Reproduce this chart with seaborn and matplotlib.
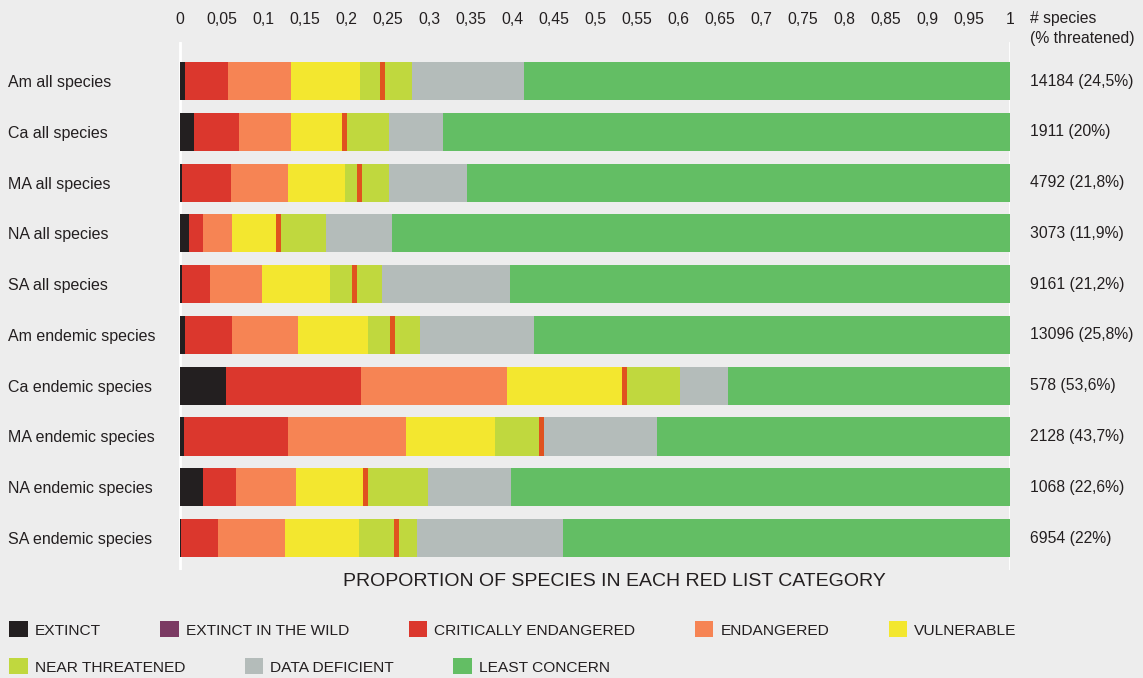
import pandas as pd
import numpy as np
import matplotlib.pyplot as plt
import seaborn as sns
from matplotlib.patches import Patch

# row labels, top to bottom
groups = ["Am all species", "Ca all species", "MA all species", "NA all species",
          "SA all species", "Am endemic species", "Ca endemic species",
          "MA endemic species", "NA endemic species", "SA endemic species"]

# share of species per category
extinct = [0.006, 0.017, 0.002, 0.011, 0.002, 0.006, 0.055, 0.005, 0.028, 0.001]
extinct_wild = [0, 0, 0, 0, 0, 0, 0, 0, 0, 0]
crit_endangered = [0.052, 0.054, 0.059, 0.017, 0.034, 0.057, 0.163, 0.125, 0.040, 0.045]
endangered = [0.076, 0.063, 0.069, 0.035, 0.063, 0.079, 0.176, 0.142, 0.072, 0.080]
vulnerable = [0.083, 0.061, 0.069, 0.053, 0.082, 0.084, 0.139, 0.108, 0.081, 0.090]
near_threat_a = [0.024, 0.0, 0.014, 0.0, 0.026, 0.027, 0.0, 0.053, 0.0, 0.042]
marker = [0.006, 0.006, 0.006, 0.006, 0.006, 0.006, 0.006, 0.006, 0.006, 0.006]
near_threat_b = [0.032, 0.051, 0.033, 0.054, 0.030, 0.030, 0.064, 0.0, 0.072, 0.022]
data_deficient = [0.135, 0.065, 0.094, 0.080, 0.154, 0.138, 0.057, 0.136, 0.100, 0.175]
least_concern = [0.586, 0.683, 0.654, 0.744, 0.603, 0.573, 0.340, 0.425, 0.601, 0.539]

n_species = ["14184 (24,5%)", "1911 (20%)", "4792 (21,8%)", "3073 (11,9%)",
             "9161 (21,2%)", "13096 (25,8%)", "578 (53,6%)", "2128 (43,7%)",
             "1068 (22,6%)", "6954 (22%)"]

tick_vals = [i * 0.05 for i in range(21)]
tick_labels = ["0", "0,05", "0,1", "0,15", "0,2", "0,25", "0,3", "0,35", "0,4", "0,45",
               "0,5", "0,55", "0,6", "0,65", "0,7", "0,75", "0,8", "0,85", "0,9", "0,95", "1"]

segments = [
    ("EXTINCT", extinct, "#231f20"),
    ("EXTINCT IN THE WILD", extinct_wild, "#7b3a63"),
    ("CRITICALLY ENDANGERED", crit_endangered, "#db372d"),
    ("ENDANGERED", endangered, "#f68454"),
    ("VULNERABLE", vulnerable, "#f3e72f"),
    ("nt_a", near_threat_a, "#c0d83e"),
    ("marker", marker, "#e0521f"),
    ("NEAR THREATENED", near_threat_b, "#c0d83e"),
    ("DATA DEFICIENT", data_deficient, "#b4bcba"),
    ("LEAST CONCERN", least_concern, "#63be64"),
]

bg = "#ededed"
txt = "#231f20"

sns.set_style("white")
plt.rcParams['font.family'] = ['Liberation Sans', 'DejaVu Sans']

fig = plt.figure(figsize=(11.43, 6.78), dpi=100, facecolor=bg)
ax = fig.add_axes([179 / 1143, 1 - 570 / 678, 831 / 1143, 528 / 678])
ax.set_facecolor(bg)

# stacked bars: draw cumulative totals from the widest down
df = pd.DataFrame({"group": groups})
cum = np.zeros(len(groups))
cums = []
for name, vals, col in segments:
    cum = cum + np.array(vals)
    cums.append((name, cum.copy(), col))

for name, total, col in reversed(cums):
    df["total"] = total
    sns.barplot(data=df, x="total", y="group", orient="h", color=col, saturation=1,
                width=0.75, linewidth=0, errorbar=None, ax=ax, zorder=3)

ax.axvline(0, color="white", lw=2, zorder=1)
ax.axvline(1, color="white", lw=2, zorder=1)

ax.set_xlim(-0.0012, 1)
ax.set_ylim(9.63, -0.77)
ax.set(xlabel="", ylabel="")
for s in ax.spines.values():
    s.set_visible(False)

ax.xaxis.tick_top()
ax.set_xticks(tick_vals)
ax.set_xticklabels(tick_labels)
ax.tick_params(axis="x", length=0, pad=11, labelsize=11.3, labelcolor=txt)
ax.tick_params(axis="y", length=0, pad=123, labelsize=11.5, labelcolor=txt)
for lab in ax.get_yticklabels():
    lab.set_horizontalalignment("left")

for i, s in enumerate(n_species):
    ax.text(1.0245, i, s, va="center", ha="left", fontsize=11.3, color=txt, clip_on=False)

fig.text(1030 / 1143, 1 - 18 / 678, "# species", va="center", ha="left", fontsize=11.3, color=txt)
fig.text(1030 / 1143, 1 - 38 / 678, "(% threatened)", va="center", ha="left", fontsize=11.3, color=txt)

fig.text(614 / 1143, 1 - 581 / 678, "PROPORTION OF SPECIES IN EACH RED LIST CATEGORY",
         ha="center", va="center", fontsize=14, color=txt)

# legend in two rows, like the original
row1 = [s for s in segments if s[0] in ("EXTINCT", "EXTINCT IN THE WILD", "CRITICALLY ENDANGERED",
                                         "ENDANGERED", "VULNERABLE")]
row2 = [s for s in segments if s[0] in ("NEAR THREATENED", "DATA DEFICIENT", "LEAST CONCERN")]
for row, ypix in ((row1, 629.5), (row2, 666.5)):
    handles = [Patch(facecolor=c, edgecolor="none", label=n) for n, _, c in row]
    fig.legend(handles=handles, ncol=len(handles), loc="center left",
               bbox_to_anchor=(9 / 1143, 1 - ypix / 678), frameon=False,
               fontsize=11.15, handlelength=1.2, handleheight=1.2, handletextpad=0.45,
               columnspacing=3.85, borderpad=0, borderaxespad=0, labelcolor=txt)

fig.savefig("out.png", dpi=100, facecolor=bg)
